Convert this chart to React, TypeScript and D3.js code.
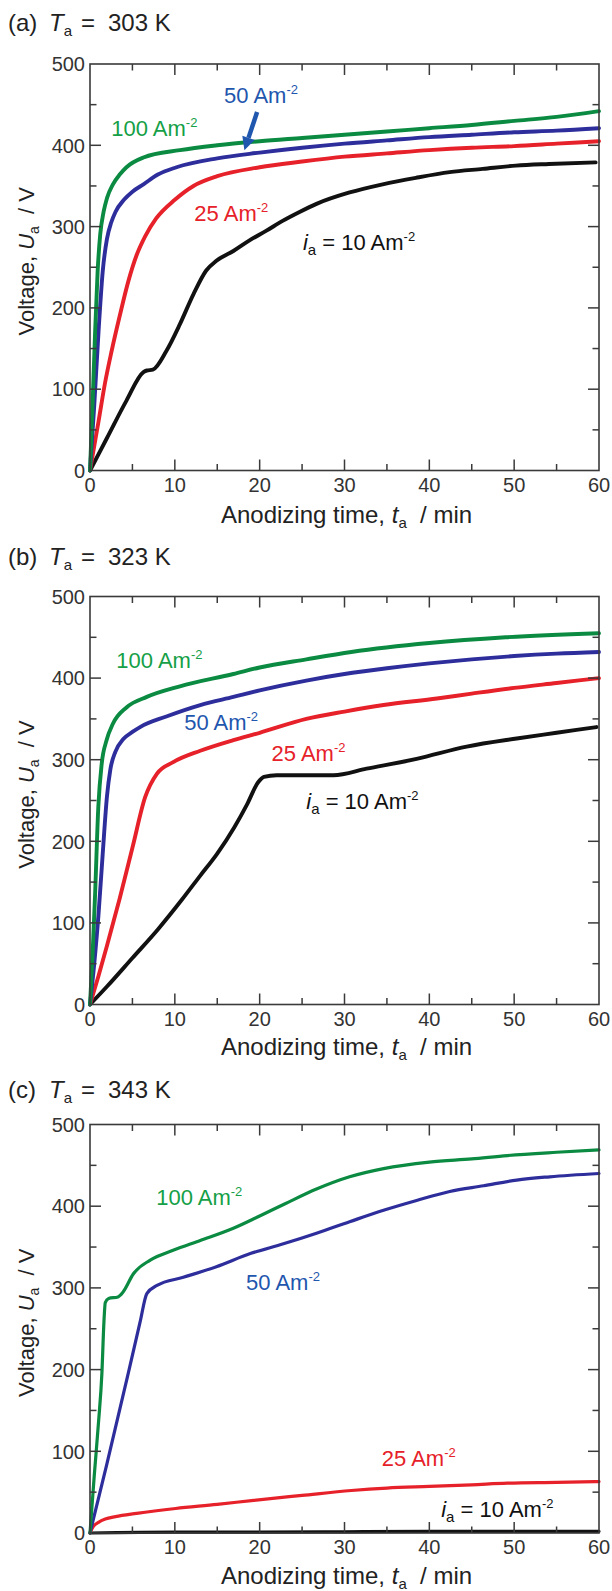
import React from 'react';
import * as d3 from 'd3';

type P = [number, number];

// ---- axis ticks ----
const X_MAJOR = [0, 10, 20, 30, 40, 50, 60];
const X_MINOR = [5, 15, 25, 35, 45, 55];
const Y_MAJOR = [0, 100, 200, 300, 400, 500];
const Y_MINOR = [50, 150, 250, 350, 450];

// ---- (a) Ta = 303 K ----
const A_100: P[] = [[0,0],[0.3,80],[0.6,170],[0.9,245],[1.2,290],[1.6,318],[2,335],[2.7,352],[3.5,364],[4.3,373],[6.3,385],[10.6,394],[15,400],[20,405],[25,409],[30,413],[35,417],[40,421],[45,425],[50,430],[55,435],[60,442]];
const A_50: P[] = [[0,0],[0.5,80],[1,170],[1.5,245],[2,285],[2.5,305],[3,318],[4,333],[5,343],[6.3,352],[8,364],[10.2,373],[15,384],[20,391],[25,397],[30,402],[35,406],[40,410],[45,413],[50,416],[55,418],[60,421]];
const A_25: P[] = [[0,0],[0.5,30],[1,60],[1.76,107],[2.55,147],[3.5,190],[4.5,232],[5.5,265],[6.5,288],[7.8,310],[10,333],[12.2,350],[15,362],[20,373],[25,380],[30,386],[35,390],[40,394],[45,397],[50,399],[55,402],[60,405]];
const A_10: P[] = [[0,0],[2,40],[4.3,86],[6.3,121],[6.7,123],[7.4,124],[9,147],[10.6,180],[12.2,217],[13.7,246],[14.9,258],[16.9,270],[18.8,283],[20.8,295],[22.7,307],[24.7,318],[26.7,328],[30.6,342],[34.5,352],[38.4,360],[42.4,367],[46.3,371],[50.2,375],[54.1,377],[59.6,379]];

// ---- (b) Ta = 323 K ----
const B_100: P[] = [[0,0],[0.3,60],[0.6,135],[0.98,242],[1.38,295],[1.96,324],[2.7,344],[4.3,364],[6.7,377],[10.6,390],[16.9,405],[20,413],[25.5,423],[30.8,432],[40,443],[49,450],[60,455]];
const B_50: P[] = [[0,0],[0.5,50],[1,110],[1.5,185],[2,255],[2.4,288],[3,310],[3.9,325],[5,334],[5.9,340],[9,353],[13,367],[16.9,377],[20,385],[25.5,397],[30,405],[35,412],[40,418],[45,423],[50,427],[55,430],[60,432]];
const B_25: P[] = [[0,0],[1,35],[2,72],[3.5,130],[5,192],[6.5,254],[7.9,283],[9.8,297],[13,311],[16.9,324],[20,333],[25.5,350],[30,359],[34.6,367],[40.9,375],[45,381],[50,388],[55,394],[60,400]];
const B_10: P[] = [[0,0],[2,22],[5,57],[8,92],[10.8,128],[13,158],[15,185],[17,217],[18.5,245],[19.8,272],[20.5,279],[22,281],[25,281],[28.7,281],[32.6,289],[38.5,301],[44.4,316],[50.3,326],[55,333],[59.7,340]];

// ---- (c) Ta = 343 K ----
const C_100: P[] = [[0,0],[0.5,70],[1,135],[1.4,195],[1.65,260],[1.8,282],[2.2,287],[3.3,289],[3.9,295],[5.1,317],[7.1,334],[9.8,346],[13,358],[16.9,373],[20,388],[23,403],[26.7,421],[30.6,436],[34.6,446],[40,454],[45,458],[49.2,462],[55,466],[60,469]];
const C_50: P[] = [[0,0],[2,85],[4.5,195],[5.9,258],[6.7,293],[7.9,303],[11,313],[14.9,326],[18.9,342],[22.8,354],[26.7,367],[30.6,381],[34.6,395],[38.5,407],[42.4,418],[46.4,425],[50.3,432],[54.2,436],[60,440]];
const C_25: P[] = [[0,0],[0.4,8],[1,13],[1.8,17],[3,20],[5.5,24],[10.1,30],[15,35],[19.3,40],[25,46],[30.8,52],[35,55],[40,57],[45,59],[49.2,61],[55,62],[60,63]];
const C_10: P[] = [[0,0],[10,1],[20,1],[30,1.5],[40,2],[50,2],[60,2]];

const TEMPS = ['303 K', '323 K', '343 K'];
const LETTERS = ['(a)', '(b)', '(c)'];

const GREEN = '#0b8a42';
const GREEN_T = '#15a047';
const BLUE = '#2d2d9c';
const BLUE_T = '#1f56ae';
const RED = '#e62129';
const BLACK = '#111111';

const FONT = '"Liberation Sans", Arial, Helvetica, sans-serif';

type Lbl = { t: number; v: number; text: string; color: string; ia?: boolean };

interface PanelCfg {
  letter: string;
  temp: string;
  top: number;
  bottom: number;
  titleY: number;
  xTitleY: number;
  lw: number;
  series: { data: P[]; color: string }[];
  labels: Lbl[];
  arrow?: { from: P; to: P };
}

const X_LEFT = 90;
const X_RIGHT = 599;

const panels: PanelCfg[] = [
  {
    letter: LETTERS[0], temp: TEMPS[0], top: 64, bottom: 470.5, titleY: 31, xTitleY: 523, lw: 3.9,
    series: [
      { data: A_10, color: BLACK }, { data: A_25, color: RED },
      { data: A_50, color: BLUE }, { data: A_100, color: GREEN },
    ],
    labels: [
      { t: 2.5, v: 412, text: '100 Am', color: GREEN_T },
      { t: 15.8, v: 452, text: '50 Am', color: BLUE_T },
      { t: 12.3, v: 307, text: '25 Am', color: RED },
      { t: 25.1, v: 271, text: '10 Am', color: BLACK, ia: true },
    ],
    arrow: { from: [19.7, 441], to: [18.2, 394] },
  },
  {
    letter: LETTERS[1], temp: TEMPS[1], top: 596.5, bottom: 1004.5, titleY: 565, xTitleY: 1055, lw: 3.9,
    series: [
      { data: B_10, color: BLACK }, { data: B_25, color: RED },
      { data: B_50, color: BLUE }, { data: B_100, color: GREEN },
    ],
    labels: [
      { t: 3.1, v: 412, text: '100 Am', color: GREEN_T },
      { t: 11.1, v: 336, text: '50 Am', color: BLUE_T },
      { t: 21.4, v: 299, text: '25 Am', color: RED },
      { t: 25.5, v: 240, text: '10 Am', color: BLACK, ia: true },
    ],
  },
  {
    letter: LETTERS[2], temp: TEMPS[2], top: 1124.5, bottom: 1533, titleY: 1098, xTitleY: 1584, lw: 3.2,
    series: [
      { data: C_10, color: BLACK }, { data: C_25, color: RED },
      { data: C_50, color: BLUE }, { data: C_100, color: GREEN },
    ],
    labels: [
      { t: 7.8, v: 402, text: '100 Am', color: GREEN_T },
      { t: 18.4, v: 298, text: '50 Am', color: BLUE_T },
      { t: 34.4, v: 82, text: '25 Am', color: RED },
      { t: 41.4, v: 19.6, text: '10 Am', color: BLACK, ia: true },
    ],
  },
];

function Panel({ cfg }: { cfg: PanelCfg }) {
  const x = d3.scaleLinear().domain([0, 60]).range([X_LEFT, X_RIGHT]);
  const y = d3.scaleLinear().domain([0, 500]).range([cfg.bottom, cfg.top]);
  const line = d3.line<P>().x(d => x(d[0])).y(d => y(d[1])).curve(d3.curveMonotoneX);
  const axisColor = '#3a3a3a';
  const MAJ = 11, MIN = 6.5;
  const midY = (cfg.top + cfg.bottom) / 2 - 6;
  const ticks: JSX.Element[] = [];
  X_MAJOR.slice(1, -1).forEach(v => {
    ticks.push(<line key={'xb' + v} x1={x(v)} x2={x(v)} y1={cfg.bottom} y2={cfg.bottom - MAJ} />);
    ticks.push(<line key={'xt' + v} x1={x(v)} x2={x(v)} y1={cfg.top} y2={cfg.top + MAJ} />);
  });
  X_MINOR.forEach(v => {
    ticks.push(<line key={'xbm' + v} x1={x(v)} x2={x(v)} y1={cfg.bottom} y2={cfg.bottom - MIN} />);
    ticks.push(<line key={'xtm' + v} x1={x(v)} x2={x(v)} y1={cfg.top} y2={cfg.top + MIN} />);
  });
  Y_MAJOR.slice(1, -1).forEach(v => {
    ticks.push(<line key={'yl' + v} x1={X_LEFT} x2={X_LEFT + MAJ} y1={y(v)} y2={y(v)} />);
    ticks.push(<line key={'yr' + v} x1={X_RIGHT} x2={X_RIGHT - MAJ} y1={y(v)} y2={y(v)} />);
  });
  Y_MINOR.forEach(v => {
    ticks.push(<line key={'ylm' + v} x1={X_LEFT} x2={X_LEFT + MIN} y1={y(v)} y2={y(v)} />);
    ticks.push(<line key={'yrm' + v} x1={X_RIGHT} x2={X_RIGHT - MIN} y1={y(v)} y2={y(v)} />);
  });

  return (
    <g fontFamily={FONT}>
      <text y={cfg.titleY} fontSize={24} fill="#222">
        <tspan x={8}>{cfg.letter}</tspan>
        <tspan x={49} fontStyle="italic">T</tspan>
        <tspan fontSize={15} dy={5}>a</tspan>
        <tspan x={81} dy={-5}>=</tspan>
        <tspan x={108}>{cfg.temp}</tspan>
      </text>

      <g>
        {cfg.series.map((s, i) => (
          <path key={i} d={line(s.data) || ''} fill="none" stroke={s.color}
            strokeWidth={cfg.lw} strokeLinejoin="round" strokeLinecap="round" />
        ))}
      </g>

      <rect x={X_LEFT} y={cfg.top} width={X_RIGHT - X_LEFT} height={cfg.bottom - cfg.top}
        fill="none" stroke={axisColor} strokeWidth={1.6} />
      <g stroke={axisColor} strokeWidth={1.5}>{ticks}</g>

      {Y_MAJOR.map(v => (
        <text key={'yl' + v} x={X_LEFT - 5} y={y(v)} dy="0.36em" textAnchor="end"
          fontSize={20} fill="#333">{v}</text>
      ))}
      {X_MAJOR.map(v => (
        <text key={'xl' + v} x={x(v)} y={cfg.bottom + 21} textAnchor="middle"
          fontSize={20} fill="#333">{v}</text>
      ))}

      <text x={(X_LEFT + X_RIGHT) / 2 + 2} y={cfg.xTitleY} textAnchor="middle" fontSize={24} fill="#222">
        Anodizing time,{' '}
        <tspan fontStyle="italic">t</tspan>
        <tspan fontSize={15} dy={5}>a</tspan>
        <tspan dy={-5}>{'\u00A0\u00A0/ min'}</tspan>
      </text>

      <text transform={`translate(34,${midY}) rotate(-90)`} textAnchor="middle" fontSize={22} fill="#222">
        {'Voltage, '}
        <tspan fontStyle="italic">U</tspan>
        <tspan fontSize={14} dy={5}>a</tspan>
        <tspan dy={-5}>{'\u00A0\u00A0/ V'}</tspan>
      </text>

      {cfg.labels.map((l, i) => (
        <text key={'lb' + i} x={x(l.t)} y={y(l.v)} fontSize={22} fill={l.color}>
          {l.ia ? (
            <>
              <tspan fontStyle="italic">i</tspan>
              <tspan fontSize={15} dy={5}>a</tspan>
              <tspan dy={-5}>{' = ' + l.text}</tspan>
            </>
          ) : (
            <tspan>{l.text}</tspan>
          )}
          <tspan fontSize={13} dy={-9}>-2</tspan>
        </text>
      ))}

      {cfg.arrow && (() => {
        const [x1, y1] = [x(cfg.arrow.from[0]), y(cfg.arrow.from[1])];
        const [x2, y2] = [x(cfg.arrow.to[0]), y(cfg.arrow.to[1])];
        const ang = Math.atan2(y2 - y1, x2 - x1);
        const hl = 13, hw = 6.5;
        const bx = x2 - hl * Math.cos(ang), by = y2 - hl * Math.sin(ang);
        const px = -Math.sin(ang), py = Math.cos(ang);
        const head = `M${x2},${y2} L${bx + hw * px},${by + hw * py} L${bx - hw * px},${by - hw * py} Z`;
        return (
          <g>
            <line x1={x1} y1={y1} x2={bx} y2={by} stroke={BLUE_T} strokeWidth={4.5} />
            <path d={head} fill={BLUE_T} />
          </g>
        );
      })()}
    </g>
  );
}

export default function App() {
  return (
    <svg width={612} height={1591} viewBox="0 0 612 1591"
      style={{ position: 'absolute', left: 0, top: 0, background: '#fff' }}>
      <rect x={0} y={0} width={612} height={1591} fill="#fff" />
      {panels.map((p, i) => <Panel key={i} cfg={p} />)}
    </svg>
  );
}
